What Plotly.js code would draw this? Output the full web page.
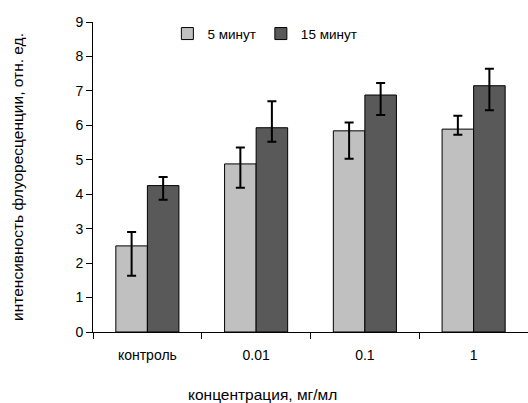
<!DOCTYPE html>
<html>
<head>
<meta charset="utf-8">
<script src="https://cdn.plot.ly/plotly-3.0.1.min.js"></script>
<style>html,body{margin:0;padding:0;background:#fff}#chart{width:528px;height:403px}</style>
</head>
<body>
<div id="chart"></div>
<script>
const categories = ["контроль", "0.01", "0.1", "1"];
const seriesNames = ["5 минут", "15 минут"];
const values5 = [2.50, 4.88, 5.84, 5.89];
const errPlus5 = [0.40, 0.48, 0.24, 0.39];
const errMinus5 = [0.87, 0.69, 0.81, 0.16];
const values15 = [4.25, 5.93, 6.88, 7.15];
const errPlus15 = [0.25, 0.77, 0.35, 0.49];
const errMinus15 = [0.41, 0.41, 0.58, 0.71];
const xTitle = "концентрация, мг/мл";
const yTitle = "интенсивность флуоресценции, отн. ед.";

const fam = "Liberation Sans, Arial, sans-serif";
const tickFont = {family: fam, size: 14, color: "#000"};
const legFont = {family: fam, size: 13.5, color: "#000"};
const titleFont = {family: fam, size: 15.5, color: "#000"};
const errStyle = {type: "data", symmetric: false, color: "#000", thickness: 2, width: 4.5};

const traces = [
  {type: "bar", name: seriesNames[0], x: categories, y: values5,
   marker: {color: "#c0c0c0", line: {color: "#000", width: 1}},
   error_y: Object.assign({array: errPlus5, arrayminus: errMinus5}, errStyle)},
  {type: "bar", name: seriesNames[1], x: categories, y: values15,
   marker: {color: "#595959", line: {color: "#000", width: 1}},
   error_y: Object.assign({array: errPlus15, arrayminus: errMinus15}, errStyle)}
];

const layout = {
  width: 528, height: 403,
  margin: {l: 93, r: 0, t: 22, b: 71},
  paper_bgcolor: "#fff", plot_bgcolor: "#fff",
  font: tickFont,
  barmode: "group", bargap: 0.42, bargroupgap: 0,
  showlegend: true,
  legend: {orientation: "h", x: 0.171, y: 0.962, xanchor: "left", yanchor: "middle",
           font: legFont, bgcolor: "rgba(0,0,0,0)", traceorder: "normal"},
  xaxis: {type: "category", showline: true, linecolor: "#000", linewidth: 1,
          ticks: "outside", tickson: "boundaries", ticklen: 6, tickcolor: "#000",
          ticklabelstandoff: 10,
          showgrid: false, zeroline: false, tickfont: tickFont},
  yaxis: {range: [0, 9], dtick: 1, showline: true, linecolor: "#000", linewidth: 1,
          ticks: "outside", ticklen: 6, tickcolor: "#000", showgrid: false, zeroline: false,
          tickfont: tickFont, title: {text: yTitle, font: titleFont, standoff: 47}},
  annotations: [
    {text: xTitle, xref: "paper", yref: "paper", x: 0.39, y: -0.2,
     xanchor: "center", yanchor: "middle", showarrow: false, font: titleFont}
  ]
};

Plotly.newPlot("chart", traces, layout, {displayModeBar: false, staticPlot: true});
</script>
</body>
</html>
